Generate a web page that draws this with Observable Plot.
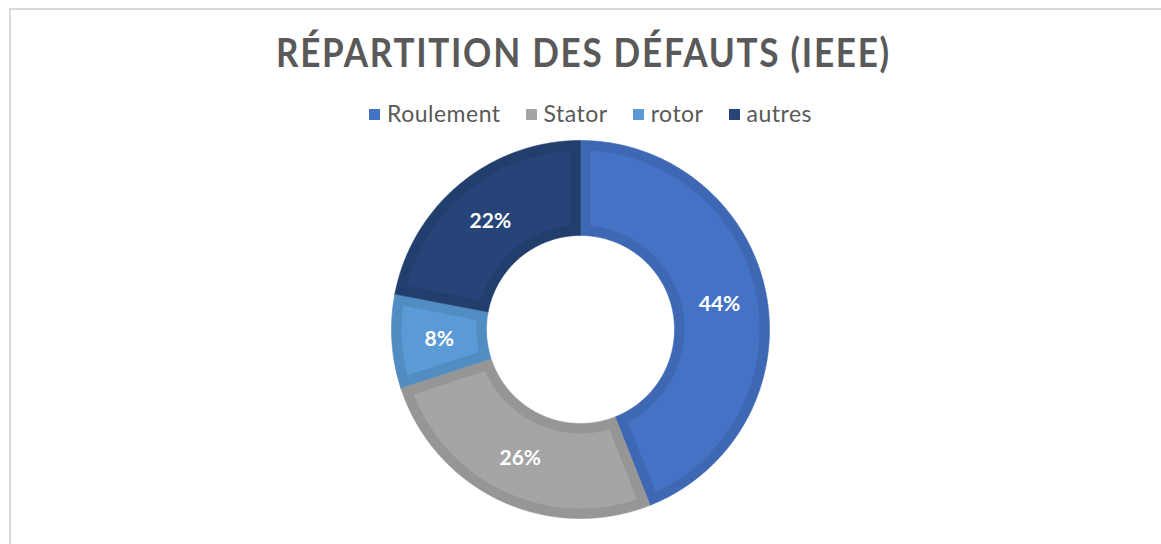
<!DOCTYPE html>
<html>
<head>
<meta charset="utf-8">
<script src="https://cdn.jsdelivr.net/npm/d3@7"></script>
<script src="https://cdn.jsdelivr.net/npm/@observablehq/plot@0.6"></script>
<style>
  html, body { margin: 0; padding: 0; background: #fff; }
  #wrap { position: relative; width: 1161px; height: 544px; overflow: hidden; font-family: Lato, "Open Sans", sans-serif; }
  #frame { position: absolute; left: 9px; top: 8px; width: 1200px; height: 600px; border-left: 2px solid #DADADA; border-top: 2px solid #DADADA; box-sizing: border-box; }
  #title { position: absolute; left: 0; top: 31px; width: 1161px; text-align: center; line-height: 1; }
  #title span { display: inline-block; font-size: 41px; font-weight: 700; color: #595959; letter-spacing: 2px; white-space: nowrap; transform-origin: center; position: relative; left: 3px; }
  #legend { position: absolute; left: 0; top: 102px; width: 1161px; display: flex; justify-content: center; gap: 25px; line-height: 23px; font-size: 23px; letter-spacing: 0.5px; color: #595959; padding-left: 20px; box-sizing: border-box; }
  #legend .item { display: flex; align-items: center; }
  #legend .sw { width: 11px; height: 11px; margin-right: 7px; margin-top: 1px; }
  #chart { position: absolute; left: 0; top: 0; }
</style>
</head>
<body>
<div id="wrap">
  <div id="frame"></div>
  <div id="chart"></div>
  <div id="title"><span>RÉPARTITION DES DÉFAUTS (IEEE)</span></div>
  <div id="legend"></div>
</div>
<script>
// ---- data ----
const categories = ["Roulement", "Stator", "rotor", "autres"];
const values = [44, 26, 8, 22];
const labels = ["44%", "26%", "8%", "22%"];
const fillColors = ["#4472C4", "#A5A5A5", "#5B9BD5", "#264478"];
const edgeColors = ["#3E68B4", "#969696", "#518CC2", "#223E6D"];

// ---- layout ----
const W = 1161, H = 544;
const cx = 580, cy = 329, R = 189, r = 94, inset = 10;

const total = d3.sum(values);
let acc = 0;
const slices = values.map((v, i) => {
  const a0 = acc / total * 2 * Math.PI;
  acc += v;
  const a1 = acc / total * 2 * Math.PI;
  return {i, a0, a1, key: categories[i]};
});

const pt = (rho, th) => ({x: cx + rho * Math.sin(th), y: cy - rho * Math.cos(th)});

function ring(a0, a1, ro, ri, d) {
  const pts = [];
  const n = Math.max(8, Math.ceil((a1 - a0) * 120));
  const oo = d ? Math.asin(d / ro) : 0, io = d ? Math.asin(d / ri) : 0;
  const ob0 = a0 + oo, ob1 = a1 - oo, ib0 = a0 + io, ib1 = a1 - io;
  for (let k = 0; k <= n; k++) pts.push(pt(ro, ob0 + (ob1 - ob0) * k / n));
  for (let k = n; k >= 0; k--) pts.push(pt(ri, ib0 + (ib1 - ib0) * k / n));
  pts.push(pts[0]);
  return pts;
}

const marks = [];
slices.forEach(s => {
  marks.push(Plot.line(ring(s.a0, s.a1, R, r, 0), {x: "x", y: "y", fill: edgeColors[s.i], stroke: edgeColors[s.i], strokeWidth: 0.6, curve: "linear"}));
});
slices.forEach(s => {
  marks.push(Plot.line(ring(s.a0, s.a1, R - inset, r + inset, inset), {x: "x", y: "y", fill: fillColors[s.i], stroke: "none", curve: "linear"}));
});
const labelData = slices.map(s => {
  const p = pt((R + r) / 2, (s.a0 + s.a1) / 2);
  return {x: p.x, y: p.y, text: labels[s.i]};
});
marks.push(Plot.text(labelData, {x: "x", y: "y", text: "text", fill: "white", fontSize: 21, fontWeight: "bold", fontFamily: "Lato", dy: 1}));

const plot = Plot.plot({
  width: W, height: H,
  margin: 0,
  x: {domain: [0, W], range: [0, W], axis: null},
  y: {domain: [0, H], range: [0, H], axis: null},
  style: {background: "transparent", fontFamily: "Lato"},
  marks
});
document.getElementById("chart").appendChild(plot);

// legend
const legend = document.getElementById("legend");
categories.forEach((c, i) => {
  const it = document.createElement("div");
  it.className = "item";
  const sw = document.createElement("div");
  sw.className = "sw";
  sw.style.background = fillColors[i];
  const tx = document.createElement("span");
  tx.textContent = c;
  it.appendChild(sw); it.appendChild(tx);
  legend.appendChild(it);
});

// fit title width to reference (~615px)
const ts = document.querySelector("#title span");
const w0 = ts.getBoundingClientRect().width;
ts.style.transform = `scaleX(${615 / w0})`;
</script>
</body>
</html>
